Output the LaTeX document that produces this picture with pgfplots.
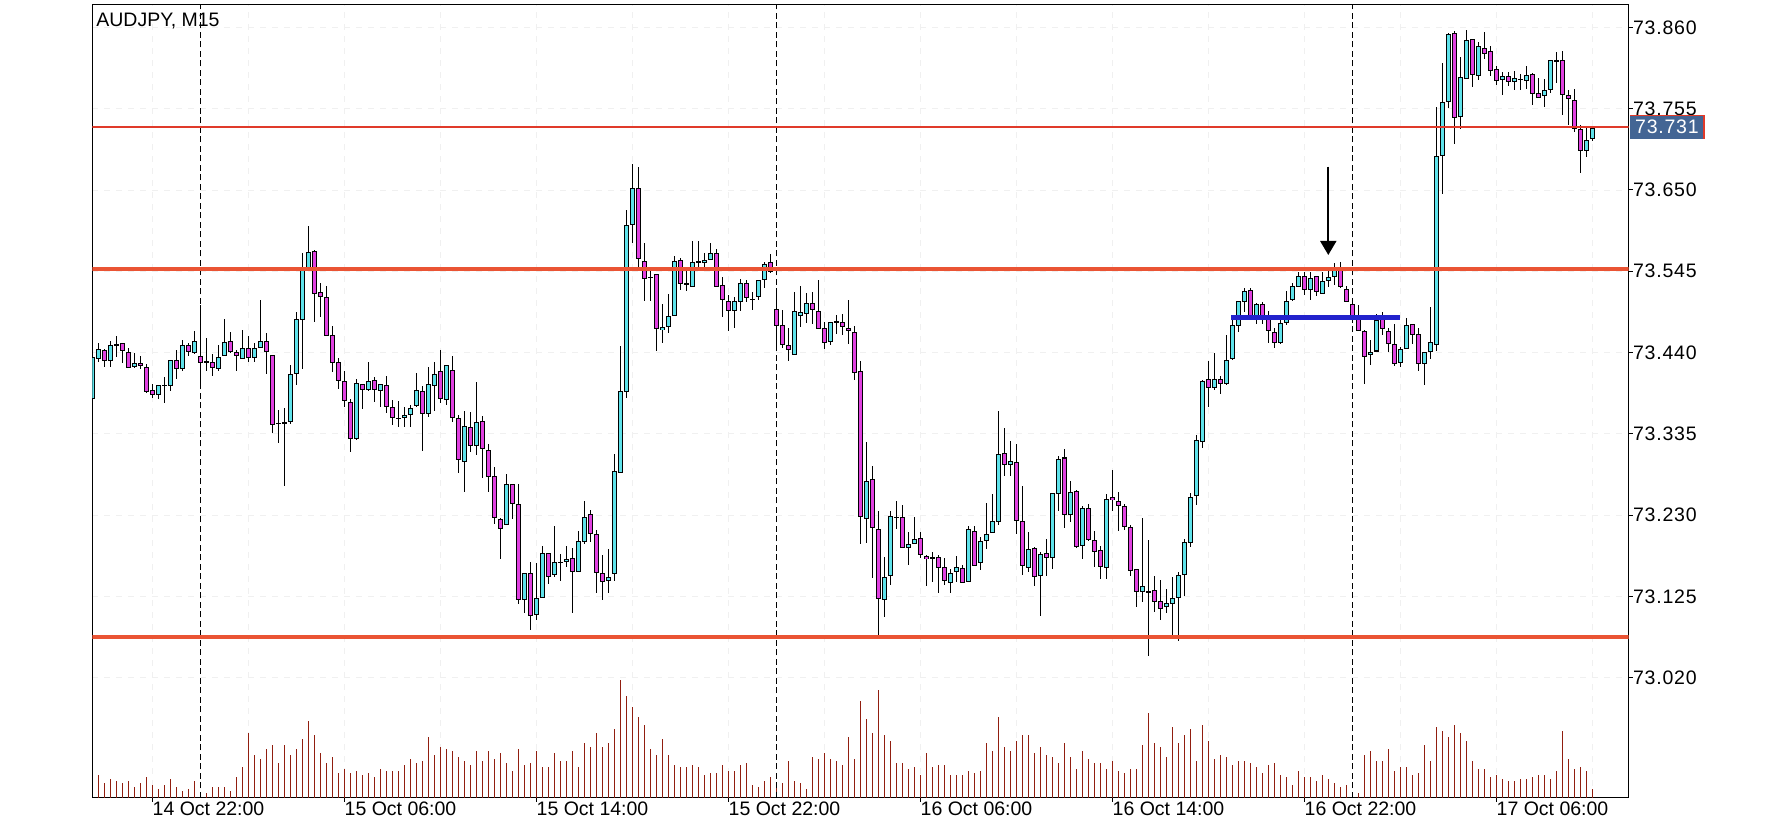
\documentclass[border=0pt]{standalone}
\usepackage{fontspec}
\setmainfont{Liberation Sans}
\newfontfamily\lblfont[LetterSpace=4]{Liberation Sans}
\usepackage{pgfplots}
\usepackage{pgfplotstable}
\pgfplotsset{compat=1.18}
\usetikzlibrary{arrows.meta}
\definecolor{bull}{RGB}{94,226,234}
\definecolor{bear}{RGB}{224,64,224}
\definecolor{lvl}{RGB}{234,84,52}
\definecolor{curline}{RGB}{224,58,42}
\definecolor{volc}{RGB}{145,30,15}
\definecolor{seg}{RGB}{34,34,204}
\definecolor{pricebox}{RGB}{67,101,148}

\pgfplotstableread{
i o h l c
-18 73.3810 73.4344 73.3810 73.4344
-17 73.4335 73.4537 73.4283 73.4443
-16 73.4430 73.4455 73.4232 73.4292
-15 73.4300 73.4550 73.4206 73.4494
-14 73.4507 73.4615 73.4348 73.4507
-13 73.4520 73.4541 73.4283 73.4421
-12 73.4417 73.4460 73.4206 73.4223
-11 73.4236 73.4404 73.4206 73.4266
-10 73.4275 73.4361 73.4193 73.4249
-9 73.4223 73.4266 73.3892 73.3909
-8 73.3913 73.3995 73.3818 73.3861
-7 73.3861 73.3995 73.3805 73.3978
-6 73.3978 73.4090 73.3754 73.3978
-5 73.3978 73.4313 73.3917 73.4300
-4 73.4313 73.4430 73.4055 73.4210
-3 73.4197 73.4572 73.4167 73.4494
-2 73.4494 73.4529 73.4361 73.4421
-1 73.4400 73.4692 73.4387 73.4546
0 73.4365 73.5024 73.4012 73.4283
1 73.4288 73.4602 73.4176 73.4288
2 73.4275 73.4391 73.4102 73.4210
3 73.4197 73.4503 73.4167 73.4339
4 73.4378 73.4834 73.4378 73.4546
5 73.4559 73.4675 73.4400 73.4430
6 73.4404 73.4434 73.4167 73.4365
7 73.4339 73.4705 73.4339 73.4468
8 73.4455 73.4623 73.4283 73.4339
9 73.4352 73.4533 73.4283 73.4468
10 73.4468 73.5093 73.4468 73.4546
11 73.4546 73.4662 73.4133 73.4417
12 73.4365 73.4365 73.3358 73.3474
13 73.3500 73.3668 73.3241 73.3500
14 73.3500 73.3698 73.2686 73.3508
15 73.3517 73.4253 73.3487 73.4120
16 73.4133 73.4938 73.3991 73.4830
17 73.4830 73.5691 73.4193 73.5463
18 73.5476 73.6048 73.5476 73.5708
19 73.5721 73.5734 73.4813 73.5179
20 73.5179 73.5295 73.4864 73.5127
21 73.5114 73.5269 73.4623 73.4623
22 73.4623 73.4752 73.4158 73.4275
23 73.4275 73.4339 73.3948 73.4042
24 73.4029 73.4171 73.3715 73.3784
25 73.3758 73.3809 73.3121 73.3293
26 73.3293 73.4059 73.3271 73.4003
27 73.4003 73.4003 73.3676 73.3939
28 73.3939 73.4279 73.3908 73.4042
29 73.4042 73.4085 73.3766 73.3926
30 73.3913 73.3990 73.3715 73.3990
31 73.3977 73.4098 73.3624 73.3706
32 73.3693 73.3801 73.3482 73.3564
33 73.3560 73.3788 73.3456 73.3560
34 73.3577 73.3698 73.3444 73.3603
35 73.3616 73.3732 73.3456 73.3693
36 73.3719 73.4150 73.3706 73.3913
37 73.3913 73.3977 73.3146 73.3629
38 73.3616 73.4223 73.3577 73.3990
39 73.3990 73.4292 73.3655 73.4132
40 73.4158 73.4434 73.3754 73.3809
41 73.3797 73.4236 73.3728 73.4236
42 73.4171 73.4369 73.3521 73.3564
43 73.3551 73.3603 73.2849 73.3022
44 73.2996 73.3655 73.2617 73.3448
45 73.3448 73.3629 73.3116 73.3215
46 73.3215 73.4033 73.3082 73.3512
47 73.3512 73.3594 73.2785 73.3164
48 73.3151 73.3228 73.2604 73.2815
49 73.2802 73.2931 73.2195 73.2273
50 73.2247 73.2273 73.1743 73.2130
51 73.2182 73.2841 73.2182 73.2699
52 73.2712 73.2712 73.2260 73.2466
53 73.2453 73.2712 73.1162 73.1226
54 73.1226 73.1562 73.1046 73.1562
55 73.1562 73.1691 73.0813 73.1020
56 73.1020 73.1704 73.0968 73.1239
57 73.1252 73.1911 73.1252 73.1820
58 73.1820 73.1820 73.1433 73.1523
59 73.1536 73.2169 73.1510 73.1691
60 73.1704 73.1808 73.1459 73.1704
61 73.1717 73.1911 73.1640 73.1743
62 73.1743 73.1872 73.1033 73.1575
63 73.1575 73.2092 73.1562 73.1963
64 73.1976 73.2492 73.1937 73.2286
65 73.2311 73.2376 73.1963 73.2066
66 73.2053 73.2118 73.1304 73.1562
67 73.1549 73.1795 73.1213 73.1446
68 73.1458 73.1876 73.1299 73.1497
69 73.1536 73.3107 73.1458 73.2853
70 73.2866 73.4493 73.2866 73.3912
71 73.3899 73.6250 73.3822 73.6043
72 73.6056 73.6844 73.5824 73.6521
73 73.6521 73.6792 73.5509 73.5617
74 73.5591 73.5824 73.5087 73.5371
75 73.5380 73.5514 73.5074 73.5380
76 73.5423 73.5436 73.4442 73.4726
77 73.4700 73.5036 73.4532 73.4726
78 73.4752 73.5152 73.4648 73.4881
79 73.4894 73.5643 73.4881 73.5591
80 73.5604 73.5630 73.5217 73.5307
81 73.5294 73.5462 73.5204 73.5294
82 73.5268 73.5854 73.5268 73.5578
83 73.5578 73.5854 73.5514 73.5578
84 73.5578 73.5694 73.5514 73.5604
85 73.5617 73.5824 73.5604 73.5694
86 73.5694 73.5746 73.5255 73.5268
87 73.5268 73.5384 73.4868 73.5087
88 73.5062 73.5152 73.4687 73.4945
89 73.4945 73.5139 73.4739 73.5062
90 73.5062 73.5346 73.4932 73.5294
91 73.5294 73.5346 73.5062 73.5113
92 73.5096 73.5178 73.4945 73.5096
93 73.5126 73.5333 73.5087 73.5333
94 73.5346 73.5578 73.5242 73.5540
95 73.5565 73.5669 73.5436 73.5449
96 73.4958 73.5178 73.4480 73.4752
97 73.4765 73.4958 73.4467 73.4519
98 73.4493 73.4713 73.4287 73.4442
99 73.4377 73.5191 73.4377 73.4932
100 73.4881 73.5255 73.4726 73.4919
101 73.4919 73.5178 73.4790 73.5049
102 73.5036 73.5191 73.4777 73.4958
103 73.4932 73.5346 73.4713 73.4713
104 73.4713 73.4803 73.4454 73.4532
105 73.4545 73.4803 73.4506 73.4790
106 73.4803 73.4881 73.4635 73.4803
107 73.4790 73.4907 73.4635 73.4739
108 73.4713 73.5074 73.4506 73.4687
109 73.4674 73.4765 73.4067 73.4157
110 73.4157 73.4291 73.1932 73.2285
111 73.2272 73.3253 73.1945 73.2750
112 73.2763 73.2943 73.1493 73.2143
113 73.2130 73.2362 73.0752 73.1239
114 73.1226 73.1760 73.0989 73.1510
115 73.1523 73.2362 73.1407 73.2285
116 73.2272 73.2496 73.2130 73.2272
117 73.2272 73.2427 73.1871 73.1884
118 73.1884 73.2091 73.1665 73.1923
119 73.1949 73.2285 73.1936 73.2001
120 73.2001 73.2091 73.1755 73.1794
121 73.1768 73.1794 73.1394 73.1742
122 73.1755 73.1820 73.1445 73.1755
123 73.1755 73.1794 73.1303 73.1626
124 73.1626 73.1742 73.1394 73.1458
125 73.1445 73.1600 73.1290 73.1561
126 73.1574 73.1781 73.1445 73.1626
127 73.1626 73.1665 73.1445 73.1445
128 73.1445 73.2169 73.1445 73.2117
129 73.2104 73.2169 73.1652 73.1665
130 73.1691 73.2014 73.1587 73.1962
131 73.1975 73.2466 73.1871 73.2052
132 73.2091 73.2569 73.2065 73.2233
133 73.2233 73.3654 73.2181 73.3098
134 73.3111 73.3434 73.2814 73.2969
135 73.2956 73.3266 73.2814 73.2995
136 73.2982 73.3228 73.2065 73.2233
137 73.2220 73.2685 73.1536 73.1652
138 73.1626 73.2091 73.1574 73.1859
139 73.1871 73.1910 73.1407 73.1510
140 73.1536 73.1833 73.1015 73.1807
141 73.1820 73.2001 73.1523 73.1768
142 73.1755 73.2582 73.1600 73.2582
143 73.2595 73.3073 73.2362 73.3034
144 73.3034 73.3150 73.2130 73.2298
145 73.2311 73.2737 73.2207 73.2595
146 73.2608 73.2634 73.1897 73.1910
147 73.1923 73.2427 73.1742 73.2401
148 73.2388 73.2453 73.1975 73.1988
149 73.1988 73.2091 73.1626 73.1846
150 73.1833 73.1910 73.1484 73.1639
151 73.1626 73.2582 73.1484 73.2504
152 73.2530 73.2892 73.2362 73.2504
153 73.2492 73.2608 73.2104 73.2440
154 73.2414 73.2466 73.2130 73.2156
155 73.2143 73.2182 73.1523 73.1588
156 73.1588 73.1601 73.1136 73.1304
157 73.1317 73.2277 73.1187 73.1381
158 73.1317 73.1988 73.0490 73.1317
159 73.1329 73.1510 73.1045 73.1187
160 73.1200 73.1472 73.0955 73.1110
161 73.1123 73.1355 73.1045 73.1162
162 73.1162 73.1523 73.0748 73.1226
163 73.1252 73.1575 73.0684 73.1536
164 73.1549 73.2001 73.1265 73.1950
165 73.1950 73.2595 73.1898 73.2531
166 73.2556 73.3344 73.2440 73.3267
167 73.3267 73.4055 73.3176 73.4042
168 73.4055 73.4300 73.3706 73.3951
169 73.3951 73.4403 73.3925 73.4055
170 73.4055 73.4106 73.3874 73.4003
171 73.4003 73.4623 73.3977 73.4300
172 73.4326 73.4894 73.4313 73.4752
173 73.4752 73.5075 73.4675 73.5062
174 73.5062 73.5243 73.4933 73.5191
175 73.5204 73.5243 73.4842 73.4868
176 73.4868 73.5036 73.4765 73.5023
177 73.5023 73.5062 73.4778 73.4868
178 73.4868 73.4946 73.4532 73.4687
179 73.4674 73.4726 73.4468 73.4545
180 73.4532 73.4829 73.4519 73.4778
181 73.4791 73.5204 73.4765 73.5062
182 73.5088 73.5307 73.5075 73.5256
183 73.5269 73.5449 73.5256 73.5398
184 73.5398 73.5449 73.5152 73.5230
185 73.5230 73.5449 73.5088 73.5372
186 73.5372 73.5398 73.5139 73.5178
187 73.5178 73.5449 73.5178 73.5333
188 73.5346 73.5462 73.5256 73.5385
189 73.5398 73.5566 73.5281 73.5514
190 73.5501 73.5578 73.5243 73.5256
191 73.5217 73.5269 73.5062 73.5062
192 73.5023 73.5036 73.4786 73.4829
193 73.4868 73.5010 73.4687 73.4687
194 73.4674 73.4700 73.4003 73.4352
195 73.4378 73.4563 73.4249 73.4404
196 73.4430 73.4908 73.4417 73.4830
197 73.4843 73.4934 73.4636 73.4727
198 73.4688 73.4714 73.4404 73.4533
199 73.4507 73.4778 73.4236 73.4262
200 73.4288 73.4481 73.4223 73.4456
201 73.4469 73.4843 73.4456 73.4765
202 73.4765 73.4765 73.4520 73.4636
203 73.4623 73.4714 73.4159 73.4249
204 73.4262 73.4417 73.3991 73.4404
205 73.4417 73.5002 73.4326 73.4533
206 73.4507 73.7581 73.4430 73.6935
207 73.6948 73.8136 73.6444 73.7633
208 73.7659 73.8524 73.7555 73.8524
209 73.8524 73.8563 73.7103 73.7439
210 73.7452 73.8214 73.7284 73.7956
211 73.7956 73.8575 73.7943 73.8446
212 73.8446 73.8446 73.7839 73.7994
213 73.7981 73.8408 73.7917 73.8356
214 73.8343 73.8537 73.8188 73.8278
215 73.8304 73.8356 73.7968 73.8059
216 73.8059 73.8111 73.7865 73.7917
217 73.7930 73.8046 73.7749 73.7968
218 73.7968 73.8033 73.7852 73.7904
219 73.7904 73.8046 73.7801 73.7943
220 73.7930 73.8007 73.7801 73.7930
221 73.7917 73.8098 73.7801 73.7981
222 73.7994 73.8020 73.7607 73.7749
223 73.7749 73.7956 73.7697 73.7710
224 73.7723 73.7943 73.7581 73.7788
225 73.7801 73.8175 73.7762 73.8175
226 73.8175 73.8291 73.7891 73.8175
227 73.8175 73.8304 73.7478 73.7736
228 73.7723 73.7801 73.7349 73.7684
229 73.7659 73.7813 73.7258 73.7297
230 73.7284 73.7349 73.6729 73.7013
231 73.7026 73.7336 73.6935 73.7155
232 73.7168 73.7336 73.7142 73.7297
}\candles

\pgfplotstableread{
i v
-17 69
-16 45
-15 57
-14 51
-13 45
-12 51
-11 33
-10 45
-9 63
-8 39
-7 27
-6 39
-5 57
-4 33
-3 21
-2 27
-1 51
0 9
1 15
2 33
3 33
4 33
5 21
6 63
7 93
8 195
9 129
10 117
11 147
12 159
13 105
14 159
15 129
16 147
17 177
18 231
19 189
20 135
21 105
22 123
23 75
24 87
25 75
26 81
27 69
28 75
29 63
30 87
31 81
32 81
33 81
34 99
35 117
36 105
37 111
38 183
39 129
40 153
41 147
42 141
43 123
44 111
45 99
46 141
47 111
48 141
49 117
50 135
51 105
52 81
53 147
54 99
55 105
56 141
57 93
58 93
59 135
60 111
61 111
62 141
63 93
64 165
65 153
66 195
67 153
68 165
69 207
70 351
71 303
72 273
73 243
74 219
75 147
76 129
77 177
78 129
79 99
80 93
81 93
82 99
83 93
84 69
85 75
86 75
87 99
88 81
89 81
90 99
91 105
92 39
93 33
94 51
95 63
96 39
97 45
98 111
99 51
100 45
101 27
102 123
103 117
104 135
105 117
106 111
107 99
108 183
109 117
110 291
111 237
112 195
113 321
114 189
115 171
116 105
117 105
118 87
119 93
120 69
121 135
122 93
123 99
124 99
125 69
126 69
127 69
128 81
129 75
130 81
131 165
132 141
133 243
134 153
135 141
136 171
137 189
138 189
139 135
140 153
141 129
142 123
143 105
144 165
145 123
146 87
147 141
148 117
149 105
150 105
151 87
152 111
153 81
154 75
155 87
156 87
157 159
158 255
159 165
160 153
161 123
162 213
163 165
164 189
165 207
166 111
167 219
168 171
169 117
170 129
171 123
172 99
173 111
174 111
175 105
176 93
177 75
178 99
179 105
180 69
181 63
182 39
183 81
184 63
185 63
186 51
187 69
188 57
189 45
190 33
191 39
192 9
193 15
194 129
195 141
196 111
197 111
198 147
199 81
200 93
201 93
202 69
203 75
204 159
205 111
206 213
207 201
208 183
209 219
210 195
211 171
212 111
213 87
214 87
215 63
216 69
217 57
218 51
219 51
220 57
221 57
222 63
223 69
224 69
225 57
226 81
227 201
228 117
229 87
230 93
231 81
232 27
}\vols

\pgfplotsset{
  candlebars/.style={only marks, mark=text, text mark={},
    error bars/.cd, y dir=both, y explicit, error mark=none,
    error bar style={line cap=butt, #1}},
}

\begin{document}
\begin{tikzpicture}
\path[use as bounding box] (0,0) rectangle (896pt,414pt);

\begin{axis}[at={(46.15pt,15.05pt)}, anchor=south west, scale only axis,
  width=768.2pt, height=396.6pt, xmin=-18, xmax=238.07,
  ymin=72.8648, ymax=73.8893,
  clip mode=individual,
  axis line style={line width=0.6pt, black},
  xtick={-8,24,56,88,120,152,184,216},
  xticklabels={14 Oct 22:00,15 Oct 06:00,15 Oct 14:00,15 Oct 22:00,16 Oct 06:00,16 Oct 14:00,16 Oct 22:00,17 Oct 06:00},
  minor xtick={8,40,72,104,136,168,200,232},
  ytick={73.020,73.125,73.230,73.335,73.440,73.545,73.650,73.755,73.860},
  yticklabels={73.020,73.125,73.230,73.335,73.440,73.545,73.650,73.755,73.860},
  xtick pos=bottom, ytick pos=right, tick align=outside,
  major tick length=2pt, minor tick length=0pt,
  tick style={black, line width=0.5pt},
  grid=both,
  major grid style={black!6, dashed},
  minor grid style={black!6, dashed},
  xticklabel style={anchor=north west, inner sep=0pt, font=\fontsize{9.75}{11}\selectfont},
  yticklabel style={anchor=west, inner sep=0pt, font=\lblfont\fontsize{9.75}{11}\selectfont},
]
% volume bars (volume units scaled onto the lower part of the price axis)
\addplot[candlebars={line width=0.7pt, draw=volc}]
  table[x=i, y expr={72.8648+\thisrow{v}*0.00021614}, y error expr={\thisrow{v}*0.00021614}]{\vols};

% day separators
\addplot[black, line width=0.5pt, dash pattern=on 3pt off 1.75pt] coordinates {(0,72.8648) (0,73.8893)};
\addplot[black, line width=0.5pt, dash pattern=on 3pt off 1.75pt] coordinates {(96,72.8648) (96,73.8893)};
\addplot[black, line width=0.5pt, dash pattern=on 3pt off 1.75pt] coordinates {(192,72.8648) (192,73.8893)};

% wicks
\addplot[candlebars={line width=0.5pt, draw=black}]
  table[x=i, y expr={(\thisrow{h}+\thisrow{l})/2}, y error expr={(\thisrow{h}-\thisrow{l})/2}]{\candles};
% body outlines
\addplot[candlebars={line width=2.35pt, draw=black}]
  table[x=i, y expr={(\thisrow{o}+\thisrow{c})/2}, y error expr={abs(\thisrow{c}-\thisrow{o})/2+0.00065}]{\candles};
% bull bodies
\addplot[restrict y to domain=70:80, candlebars={line width=1.35pt, draw=bull}]
  table[x=i, y expr={ifthenelse(\thisrow{c}>=\thisrow{o},(\thisrow{o}+\thisrow{c})/2,0)}, y error expr={max(abs(\thisrow{c}-\thisrow{o})/2-0.00065,0)}]{\candles};
% bear bodies
\addplot[restrict y to domain=70:80, candlebars={line width=1.35pt, draw=bear}]
  table[x=i, y expr={ifthenelse(\thisrow{c}<\thisrow{o},(\thisrow{o}+\thisrow{c})/2,0)}, y error expr={max(abs(\thisrow{c}-\thisrow{o})/2-0.00065,0)}]{\candles};

% levels
\addplot[curline, line width=0.8pt] coordinates {(-18,73.731) (238.07,73.731)};
\addplot[lvl, line width=1.85pt] coordinates {(-18,73.548) (238.07,73.548)};
\addplot[lvl, line width=1.85pt] coordinates {(-18,73.073) (238.07,73.073)};
\addplot[seg, line width=2.3pt] coordinates {(171.8,73.4856) (199.9,73.4856)};
% arrow
\addplot[black, line width=0.9pt, -{Triangle[width=8pt,length=7pt]}] coordinates {(188,73.680) (188,73.566)};

% title
\node[anchor=base west, inner sep=0pt, xshift=1.85pt, yshift=-11pt, font=\fontsize{9.75}{11}\selectfont] at (rel axis cs:0,1) {AUDJPY, M15};
% price box
\node[fill=pricebox, text=white, anchor=west, inner xsep=0pt, inner ysep=0pt, minimum height=11.35pt, minimum width=36.5pt, xshift=0.65pt, font=\lblfont\fontsize{9.75}{11}\selectfont] (pb) at (axis cs:238.07,73.731) {73.731};
\draw[curline, line width=0.8pt] (pb.north west) -- (pb.north east) -- (pb.south east);
\end{axis}
\end{tikzpicture}
\end{document}
